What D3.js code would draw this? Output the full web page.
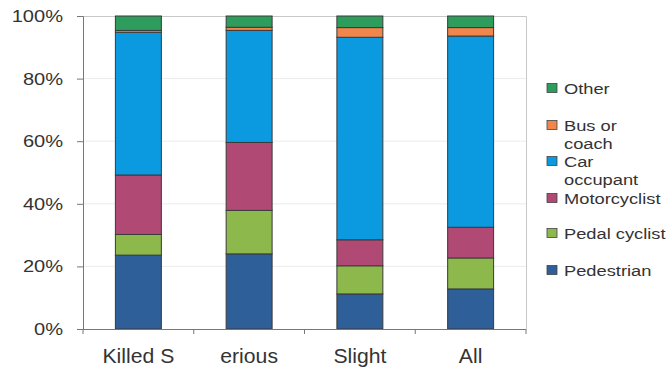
<!DOCTYPE html>
<html><head><meta charset="utf-8">
<script src="https://cdn.jsdelivr.net/npm/d3@7"></script>
<style>body{margin:0;background:#fff}svg{display:block;font-family:"Liberation Sans",Arial,sans-serif}</style>
</head><body><svg id="c" width="669" height="370"></svg>
<script>
const categories = ["Killed S", "erious", "Slight", "All"];
const seriesNames = ["Pedestrian", "Pedal cyclist", "Motorcyclist", "Car occupant", "Bus or coach", "Other"];
const pedestrian = [23.6, 24.0, 11.2, 12.8];
const pedalCyclist = [6.6, 13.9, 9.0, 9.9];
const motorcyclist = [19.0, 21.7, 8.3, 9.8];
const carOccupant = [45.6, 35.8, 64.7, 61.1];
const busCoach = [0.6, 1.0, 3.1, 2.7];
const other = [4.6, 3.6, 3.7, 3.7];
const yTicks = [0, 20, 40, 60, 80, 100];
const colors = ["#2f5f98", "#8cb84c", "#b04a74", "#0b9ae0", "#f0864c", "#2e9c5c"];
const legendLines = [["Other"], ["Bus or", "coach"], ["Car", "occupant"], ["Motorcyclist"], ["Pedal cyclist"], ["Pedestrian"]];

const seriesVals = [pedestrian, pedalCyclist, motorcyclist, carOccupant, busCoach, other];
const table = categories.map((c, i) => {
  const o = {cat: c};
  seriesNames.forEach((s, j) => o[s] = seriesVals[j][i]);
  return o;
});
const stack = d3.stack().keys(seriesNames)(table);

const svg = d3.select("#c");
const L = 83, R = 526, T = 16, B = 329;
const x = d3.scaleBand().domain(categories).range([L, R]).paddingInner(0.585).paddingOuter(0.2925);
const xb = d3.scaleBand().domain(categories).range([L, R]);
const y = d3.scaleLinear().domain([0, 100]).range([B, T]);
const SX = 1.18;

// gridlines
svg.append("g").selectAll("line").data(yTicks.filter(t => t > 0 && t < 100)).join("line")
  .attr("x1", L).attr("x2", R).attr("y1", d => y(d)).attr("y2", d => y(d))
  .attr("stroke", "#ececec").attr("stroke-width", 1);
// border top/right
svg.append("path").attr("d", `M${L},${T+0.5}H${R+0.5}V${B}`).attr("fill", "none").attr("stroke", "#c8c8c8");

// bars
svg.append("g").selectAll("g").data(stack).join("g")
  .attr("fill", (d, i) => colors[i])
  .selectAll("rect").data(d => d).join("rect")
  .attr("x", d => x(d.data.cat)).attr("width", x.bandwidth())
  .attr("y", d => y(d[1])).attr("height", d => y(d[0]) - y(d[1]))
  .attr("stroke", "#3a3a3a").attr("stroke-width", 1);

// y axis
const ya = svg.append("g").attr("transform", `translate(${L},0)`)
  .call(d3.axisLeft(y).tickValues(yTicks).tickFormat(d => d + "%").tickSize(6).tickPadding(20));
ya.select(".domain").attr("stroke", "#777");
ya.selectAll(".tick line").attr("stroke", "#777");
ya.selectAll("text").attr("font-size", 17).attr("fill", "#333").attr("font-family", "Liberation Sans, Arial, sans-serif")
  .attr("x", -20 / SX).attr("transform", `scale(${SX},1)`);

// x axis
const xa = svg.append("g").attr("transform", `translate(0,${B})`);
xa.append("line").attr("x1", L - 6).attr("x2", R).attr("y1", 0.5).attr("y2", 0.5).attr("stroke", "#777");
xa.selectAll("line.t").data(categories.concat(["end"])).join("line").attr("class", "t")
  .attr("x1", (d, i) => i < categories.length ? xb(d) : R).attr("x2", (d, i) => i < categories.length ? xb(d) : R)
  .attr("y1", 0).attr("y2", 5).attr("stroke", "#777");
xa.selectAll("text").data(categories).join("text")
  .attr("transform", d => `translate(${xb(d) + xb.bandwidth() / 2},34) scale(1.06,1)`)
  .attr("text-anchor", "middle").attr("font-size", 20).attr("fill", "#333").text(d => d);

// legend
const legendY = [88, 125, 161, 198, 233, 270];
const lg = svg.append("g");
legendLines.forEach((lines, i) => {
  const k = seriesNames.length - 1 - i;
  const gy = legendY[i];
  lg.append("rect").attr("x", 547).attr("y", gy - 4.5).attr("width", 10).attr("height", 9)
    .attr("fill", colors[k]).attr("stroke", "#444").attr("stroke-width", 0.8);
  lines.forEach((t, j) => {
    lg.append("text").attr("transform", `translate(564,${gy + 5.5 + j * 18}) scale(${SX},1)`)
      .attr("font-size", 15.5).attr("fill", "#333").text(t);
  });
});
</script></body></html>
